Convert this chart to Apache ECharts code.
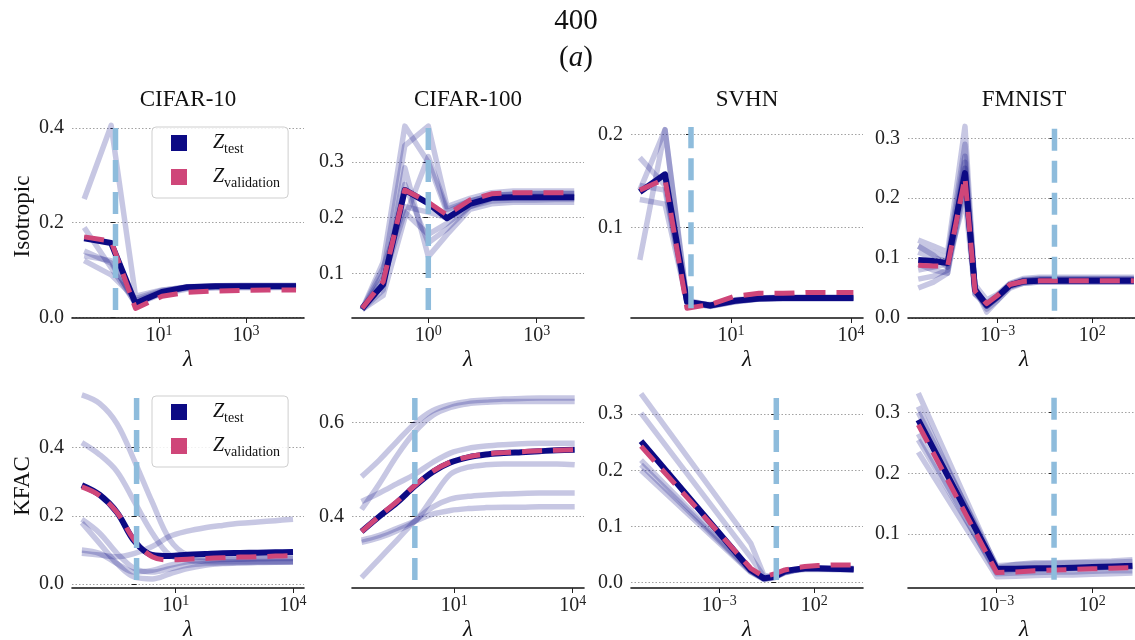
<!DOCTYPE html>
<html>
<head>
<meta charset="utf-8">
<script src="https://cdn.jsdelivr.net/npm/echarts@6/dist/echarts.min.js"></script>
<style>
html, body { margin: 0; padding: 0; background: #fff; }
#ebox { width: 1135px; height: 640px; }
</style>
</head>
<body>
<div id="ebox"></div>
<script>
//数据集 / 方法
let datasets = ["CIFAR-10", "CIFAR-100", "SVHN", "FMNIST"];
let methods = ["Isotropic", "KFAC"];

//x values are log10(lambda)
//CIFAR-10, Isotropic
let c10IsoLam = [-0.72, -0.1, 0.46, 1.07, 1.65, 2.3, 2.9, 3.5, 4.15];
let c10IsoTest = [0.167, 0.157, 0.030, 0.054, 0.064, 0.066, 0.066, 0.066, 0.066];
let c10IsoVal = [0.170, 0.161, 0.019, 0.045, 0.053, 0.056, 0.057, 0.058, 0.058];
let c10IsoRuns = [
    [0.25, 0.405, 0.045, 0.058, 0.064, 0.066, 0.067, 0.067, 0.067],
    [0.19, 0.105, 0.030, 0.052, 0.062, 0.064, 0.065, 0.065, 0.065],
    [0.14, 0.115, 0.035, 0.055, 0.064, 0.066, 0.066, 0.067, 0.067],
    [0.13, 0.12, 0.028, 0.050, 0.060, 0.062, 0.063, 0.063, 0.064],
    [0.12, 0.09, 0.040, 0.057, 0.065, 0.067, 0.068, 0.068, 0.068]
];
//CIFAR-100, Isotropic
let c100IsoLam = [-1.83, -1.25, -0.65, 0.0, 0.52, 1.15, 1.75, 2.35, 2.95, 3.5, 4.04];
let c100IsoTest = [0.037, 0.080, 0.250, 0.226, 0.199, 0.225, 0.236, 0.237, 0.237, 0.237, 0.237];
let c100IsoVal = [0.037, 0.085, 0.250, 0.228, 0.205, 0.232, 0.243, 0.245, 0.245, 0.245, 0.245];
let c100IsoRuns = [
    [0.035, 0.12, 0.365, 0.30, 0.21, 0.23, 0.24, 0.242, 0.243, 0.243, 0.243],
    [0.035, 0.10, 0.33, 0.365, 0.22, 0.235, 0.245, 0.248, 0.248, 0.248, 0.248],
    [0.035, 0.07, 0.29, 0.13, 0.17, 0.215, 0.225, 0.228, 0.228, 0.228, 0.228],
    [0.035, 0.09, 0.21, 0.17, 0.19, 0.22, 0.23, 0.232, 0.232, 0.233, 0.233],
    [0.035, 0.06, 0.20, 0.31, 0.215, 0.23, 0.24, 0.243, 0.244, 0.244, 0.244],
    [0.035, 0.08, 0.26, 0.155, 0.18, 0.22, 0.235, 0.238, 0.239, 0.239, 0.239],
    [0.035, 0.11, 0.22, 0.21, 0.20, 0.225, 0.235, 0.236, 0.236, 0.236, 0.236]
];
//SVHN, Isotropic
let svhnIsoLam = [-1.28, -0.65, -0.1, 0.48, 1.1, 1.7, 2.3, 2.9, 3.5, 4.06];
let svhnIsoTest = [0.138, 0.157, 0.020, 0.016, 0.021, 0.0235, 0.024, 0.024, 0.024, 0.024];
let svhnIsoVal = [0.140, 0.152, 0.013, 0.017, 0.026, 0.029, 0.029, 0.030, 0.030, 0.030];
let svhnIsoRuns = [
    [0.175, 0.145, 0.020, 0.016, 0.021, 0.023, 0.024, 0.024, 0.024, 0.024],
    [0.065, 0.205, 0.018, 0.015, 0.020, 0.023, 0.023, 0.023, 0.023, 0.023],
    [0.140, 0.205, 0.022, 0.016, 0.022, 0.024, 0.025, 0.025, 0.025, 0.025],
    [0.130, 0.125, 0.020, 0.015, 0.020, 0.023, 0.024, 0.024, 0.024, 0.024],
    [0.145, 0.140, 0.019, 0.017, 0.021, 0.024, 0.024, 0.024, 0.024, 0.024]
];
//FMNIST, Isotropic
let fmIsoLam = [-7.2, -6.4, -5.65, -4.73, -4.2, -3.58, -3.0, -2.35, -1.65, -0.8, 0.5, 2.0, 4.2];
let fmIsoTest = [0.097, 0.095, 0.092, 0.242, 0.047, 0.022, 0.036, 0.055, 0.061, 0.062, 0.062, 0.062, 0.062];
let fmIsoVal = [0.088, 0.087, 0.086, 0.235, 0.045, 0.024, 0.038, 0.056, 0.061, 0.062, 0.062, 0.062, 0.062];
let fmIsoRuns = [
    [0.13, 0.12, 0.11, 0.32, 0.05, 0.01, 0.03, 0.05, 0.058, 0.06, 0.06, 0.06, 0.06],
    [0.05, 0.06, 0.075, 0.26, 0.04, 0.02, 0.035, 0.055, 0.062, 0.065, 0.065, 0.065, 0.065],
    [0.12, 0.11, 0.10, 0.29, 0.05, 0.015, 0.03, 0.052, 0.06, 0.063, 0.063, 0.063, 0.063],
    [0.08, 0.085, 0.09, 0.20, 0.04, 0.025, 0.038, 0.058, 0.066, 0.068, 0.068, 0.068, 0.068],
    [0.11, 0.10, 0.095, 0.27, 0.045, 0.02, 0.035, 0.053, 0.058, 0.06, 0.06, 0.06, 0.06],
    [0.09, 0.08, 0.075, 0.22, 0.055, 0.03, 0.04, 0.057, 0.064, 0.066, 0.066, 0.066, 0.066],
    [0.12, 0.105, 0.085, 0.25, 0.05, 0.02, 0.035, 0.055, 0.063, 0.064, 0.064, 0.064, 0.064],
    [0.065, 0.07, 0.08, 0.23, 0.045, 0.02, 0.034, 0.054, 0.06, 0.062, 0.062, 0.062, 0.062]
];
//CIFAR-10, KFAC
let c10KfLam = [-1.4, -0.95, -0.5, -0.05, 0.4, 0.85, 1.3, 1.75, 2.2, 2.65, 3.1, 3.55, 4.0];
let c10KfTest = [0.29, 0.262, 0.21, 0.125, 0.085, 0.082, 0.086, 0.088, 0.09, 0.091, 0.092, 0.093, 0.094];
let c10KfVal = [0.285, 0.26, 0.21, 0.128, 0.08, 0.071, 0.073, 0.075, 0.077, 0.079, 0.08, 0.082, 0.083];
let c10KfRuns = [
    [0.555, 0.53, 0.47, 0.36, 0.24, 0.13, 0.085, 0.078, 0.078, 0.079, 0.08, 0.08, 0.08],
    [0.415, 0.38, 0.33, 0.24, 0.15, 0.085, 0.07, 0.066, 0.065, 0.065, 0.066, 0.066, 0.066],
    [0.19, 0.15, 0.09, 0.045, 0.035, 0.045, 0.055, 0.06, 0.062, 0.063, 0.064, 0.064, 0.065],
    [0.09, 0.085, 0.08, 0.09, 0.11, 0.14, 0.155, 0.165, 0.172, 0.178, 0.182, 0.186, 0.19],
    [0.18, 0.12, 0.06, 0.02, 0.015, 0.03, 0.045, 0.055, 0.06, 0.062, 0.063, 0.064, 0.064],
    [0.10, 0.09, 0.06, 0.035, 0.04, 0.055, 0.065, 0.07, 0.072, 0.073, 0.074, 0.075, 0.075]
];
//CIFAR-100, KFAC
let c100KfLam = [-1.35, -0.9, -0.45, 0.0, 0.45, 0.9, 1.35, 1.8, 2.25, 2.7, 3.15, 3.6, 4.05];
let c100KfTest = [0.368, 0.40, 0.43, 0.465, 0.495, 0.515, 0.526, 0.532, 0.535, 0.537, 0.539, 0.541, 0.542];
let c100KfVal = [0.368, 0.401, 0.432, 0.466, 0.496, 0.516, 0.527, 0.533, 0.536, 0.538, 0.54, 0.541, 0.542];
let c100KfRuns = [
    [0.485, 0.52, 0.56, 0.598, 0.625, 0.638, 0.645, 0.648, 0.65, 0.651, 0.652, 0.652, 0.652],
    [0.415, 0.47, 0.53, 0.58, 0.615, 0.632, 0.64, 0.643, 0.645, 0.645, 0.645, 0.645, 0.645],
    [0.432, 0.45, 0.47, 0.49, 0.515, 0.535, 0.545, 0.55, 0.553, 0.555, 0.556, 0.556, 0.556],
    [0.345, 0.355, 0.37, 0.39, 0.44, 0.49, 0.505, 0.51, 0.512, 0.512, 0.512, 0.512, 0.51],
    [0.27, 0.31, 0.35, 0.39, 0.42, 0.437, 0.443, 0.446, 0.448, 0.449, 0.45, 0.45, 0.45],
    [0.35, 0.36, 0.375, 0.39, 0.405, 0.413, 0.417, 0.419, 0.42, 0.42, 0.421, 0.421, 0.421]
];
//SVHN, KFAC
let svhnKfLam = [-7.12, -1.35, -0.65, -0.1, 0.45, 1.0, 1.5, 2.2, 3.0, 4.07];
let svhnKfTest = [0.252, 0.022, 0.007, 0.010, 0.020, 0.023, 0.025, 0.025, 0.024, 0.023];
let svhnKfVal = [0.243, 0.025, 0.010, 0.015, 0.022, 0.026, 0.028, 0.030, 0.031, 0.031];
let svhnKfRuns = [
    [0.337, 0.070, 0.012, 0.010, 0.018, 0.022, 0.024, 0.024, 0.024, 0.024],
    [0.302, 0.045, 0.010, 0.009, 0.018, 0.022, 0.024, 0.024, 0.024, 0.024],
    [0.218, 0.020, 0.006, 0.009, 0.018, 0.022, 0.024, 0.024, 0.023, 0.023],
    [0.200, 0.018, 0.005, 0.008, 0.017, 0.021, 0.023, 0.023, 0.023, 0.023],
    [0.210, 0.019, 0.006, 0.009, 0.019, 0.023, 0.025, 0.025, 0.025, 0.025]
];
//FMNIST, KFAC
let fmKfLam = [-7.1, -3.0, -2.0, -1.0, 0.0, 1.0, 2.0, 3.0, 4.1];
let fmKfTest = [0.288, 0.043, 0.043, 0.044, 0.044, 0.045, 0.046, 0.047, 0.048];
let fmKfVal = [0.280, 0.037, 0.038, 0.040, 0.041, 0.042, 0.043, 0.044, 0.045];
let fmKfRuns = [
    [0.332, 0.045, 0.05, 0.053, 0.053, 0.054, 0.055, 0.056, 0.058],
    [0.31, 0.04, 0.042, 0.043, 0.044, 0.045, 0.045, 0.046, 0.047],
    [0.265, 0.035, 0.036, 0.037, 0.038, 0.038, 0.039, 0.04, 0.04],
    [0.235, 0.03, 0.031, 0.032, 0.033, 0.033, 0.034, 0.035, 0.036],
    [0.30, 0.048, 0.05, 0.051, 0.052, 0.053, 0.053, 0.054, 0.055],
    [0.255, 0.038, 0.04, 0.041, 0.042, 0.043, 0.044, 0.045, 0.046]
];

//selected lambda (log10) and the span of its marker
let bestLam = [0, 0, 0, 0, 0, 0, 0, 0];
let bestLo = [0.016, 0.034, 0.013, 0.012, 0.012, 0.265, 0.004, 0.025];
let bestHi = [0.405, 0.365, 0.208, 0.32, 0.555, 0.655, 0.335, 0.326];

//tick labels
let xTicks = [[1, 3], [0, 3], [1, 4], [-3, 2], [1, 4], [1, 4], [-3, 2], [-3, 2]];
let yTicks = [[0, 0.2, 0.4], [0.1, 0.2, 0.3], [0.1, 0.2], [0, 0.1, 0.2, 0.3],
              [0, 0.2, 0.4], [0.4, 0.6], [0, 0.1, 0.2, 0.3], [0.1, 0.2, 0.3]];

(() => {
    let FONT = "Liberation Serif";
    let NAVY = "#0c0a84";
    let PINK = "#cf4679";
    let BLUE = "#8ebcdc";

    let panels = [
        {lam: c10IsoLam, test: c10IsoTest, val: c10IsoVal, runs: c10IsoRuns},
        {lam: c100IsoLam, test: c100IsoTest, val: c100IsoVal, runs: c100IsoRuns},
        {lam: svhnIsoLam, test: svhnIsoTest, val: svhnIsoVal, runs: svhnIsoRuns},
        {lam: fmIsoLam, test: fmIsoTest, val: fmIsoVal, runs: fmIsoRuns},
        {lam: c10KfLam, test: c10KfTest, val: c10KfVal, runs: c10KfRuns},
        {lam: c100KfLam, test: c100KfTest, val: c100KfVal, runs: c100KfRuns},
        {lam: svhnKfLam, test: svhnKfTest, val: svhnKfVal, runs: svhnKfRuns},
        {lam: fmKfLam, test: fmKfTest, val: fmKfVal, runs: fmKfRuns}
    ];
    //the KFAC CIFAR curves are dense in the original, so draw them smoothed
    let smoothPanel = [false, false, false, false, true, true, false, false];

    //layout
    let colLeft = [72, 352, 631, 908];
    let colWidth = 232;
    let rowTop = [115, 384];
    let rowHeight = [203, 204];
    let xRange = [[-1.0, 4.333], [-2.112, 4.31], [-1.5, 4.3], [-7.741, 4.52],
                  [-1.652, 4.281], [-1.592, 4.286], [-7.647, 4.563], [-7.639, 4.495]];
    let yRange = [[-0.001, 0.427], [0.0195, 0.385], [0.0025, 0.2208], [0.0, 0.339],
                  [-0.0117, 0.587], [0.248, 0.682], [-0.0102, 0.354], [0.0115, 0.347]];

    let zip = function (xs, ys) {
        let out = [];
        for (let k = 0; k < xs.length; k++) out.push([xs[k], ys[k]]);
        return out;
    };
    let supFmt = function (v) {
        let s = v < 0 ? "\u2212" + (-v) : "" + v;
        return "{b|10}{s|" + s + "}";
    };

    let grids = [], xAxes = [], yAxes = [], series = [];
    for (let i = 0; i < 8; i++) {
        let r = Math.floor(i / 4), c = i % 4;
        let sm = smoothPanel[i] ? 0.35 : false;
        grids.push({
            left: colLeft[c], top: rowTop[r], width: colWidth, height: rowHeight[r],
            containLabel: false, outerBoundsMode: "none"
        });
        xAxes.push({
            type: "value", gridIndex: i, min: xRange[i][0], max: xRange[i][1],
            name: "\u03bb", nameLocation: "middle", nameGap: 30,
            nameTextStyle: {fontFamily: FONT, fontStyle: "italic", fontSize: 23, color: "#111"},
            axisLine: {show: true, onZero: false, lineStyle: {color: "#111", width: 1.6}},
            axisTick: {show: true, length: 5, customValues: xTicks[i], lineStyle: {color: "#222", width: 1}},
            axisLabel: {
                customValues: xTicks[i], margin: 6, formatter: supFmt, color: "#222",
                rich: {
                    b: {fontFamily: FONT, fontSize: 20, color: "#222"},
                    s: {fontFamily: FONT, fontSize: 14, color: "#222", padding: [0, 0, 10, 0]}
                }
            },
            splitLine: {show: false}
        });
        yAxes.push({
            type: "value", gridIndex: i, min: yRange[i][0], max: yRange[i][1],
            name: c === 0 ? methods[r] : "", nameLocation: "middle", nameGap: 38, nameRotate: 90,
            nameTextStyle: {fontFamily: FONT, fontSize: 23, color: "#111"},
            axisLine: {show: false},
            axisTick: {show: true, length: 5, customValues: yTicks[i], lineStyle: {color: "#222", width: 1}},
            axisLabel: {
                customValues: yTicks[i], margin: 8, fontFamily: FONT, fontSize: 20, color: "#222",
                formatter: function (v) { return v.toFixed(1); }
            },
            splitLine: {show: true, lineStyle: {type: [1.5, 2], color: "#8a8a8a", width: 0.8}}
        });

        let p = panels[i];
        //单次运行
        for (let k = 0; k < p.runs.length; k++) {
            series.push({
                type: "line", xAxisIndex: i, yAxisIndex: i, data: zip(p.lam, p.runs[k]),
                symbol: "none", silent: true, z: 2, animation: false, smooth: sm,
                lineStyle: {color: "rgba(0,0,128,0.22)", width: 5.5, join: "round"},
                emphasis: {disabled: true}
            });
        }
        series.push({
            name: "test", type: "line", xAxisIndex: i, yAxisIndex: i, data: zip(p.lam, p.test),
            symbol: "none", silent: true, z: 3, animation: false, smooth: sm,
            itemStyle: {color: NAVY},
            lineStyle: {color: NAVY, width: 6, join: "round"},
            emphasis: {disabled: true}
        });
        series.push({
            name: "validation", type: "line", xAxisIndex: i, yAxisIndex: i, data: zip(p.lam, p.val),
            symbol: "none", silent: true, z: 4, animation: false, smooth: sm,
            itemStyle: {color: PINK},
            lineStyle: {color: PINK, width: 5, type: [20, 11], join: "round"},
            emphasis: {disabled: true}
        });
        series.push({
            type: "line", xAxisIndex: i, yAxisIndex: i,
            data: [[bestLam[i], bestLo[i]], [bestLam[i], bestHi[i]]],
            symbol: "none", silent: true, z: 5, animation: false,
            lineStyle: {color: BLUE, width: 5.5, type: [22, 10]},
            emphasis: {disabled: true}
        });
    }

    let legends = [];
    for (let r = 0; r < 2; r++) {
        legends.push({
            left: 152, top: r === 0 ? 127 : 396, orient: "vertical", z: 10,
            selectedMode: false,
            itemWidth: 16, itemHeight: 16, itemGap: 11,
            padding: [6, 8, 8, 19],
            borderColor: "#cfcfcf", borderWidth: 1, borderRadius: 4,
            backgroundColor: "rgba(255,255,255,0.85)",
            data: [{name: "test", icon: "rect"}, {name: "validation", icon: "rect"}],
            itemStyle: {borderWidth: 0},
            formatter: function (name) { return "{z|Z}{s|" + name + "}"; },
            textStyle: {
                rich: {
                    z: {fontFamily: FONT, fontStyle: "italic", fontSize: 20, color: "#111", padding: [0, 0, 0, 21]},
                    s: {fontFamily: FONT, fontSize: 14, color: "#111", padding: [12, 0, 0, 0]}
                }
            }
        });
    }

    let texts = [
        {type: "text", x: 576, y: 21, style: {text: "400", fontFamily: FONT, fontSize: 29, fill: "#111", align: "center", verticalAlign: "middle"}},
        {type: "text", x: 576, y: 58, style: {
            text: "{p|(}{a|a}{p|)}", align: "center", verticalAlign: "middle",
            rich: {
                p: {fontFamily: FONT, fontSize: 29, fill: "#111", color: "#111"},
                a: {fontFamily: FONT, fontSize: 29, fontStyle: "italic", fill: "#111", color: "#111"}
            }
        }}
    ];
    for (let c = 0; c < 4; c++) {
        texts.push({
            type: "text", x: colLeft[c] + colWidth / 2, y: 100,
            style: {text: datasets[c], fontFamily: FONT, fontSize: 23, fill: "#111", align: "center", verticalAlign: "middle"}
        });
    }

    let chart = echarts.init(document.getElementById("ebox"), null, {renderer: "canvas"});
    chart.setOption({
        animation: false,
        backgroundColor: "#fff",
        grid: grids,
        xAxis: xAxes,
        yAxis: yAxes,
        legend: legends,
        graphic: texts,
        series: series
    });
})();
</script>
</body>
</html>
